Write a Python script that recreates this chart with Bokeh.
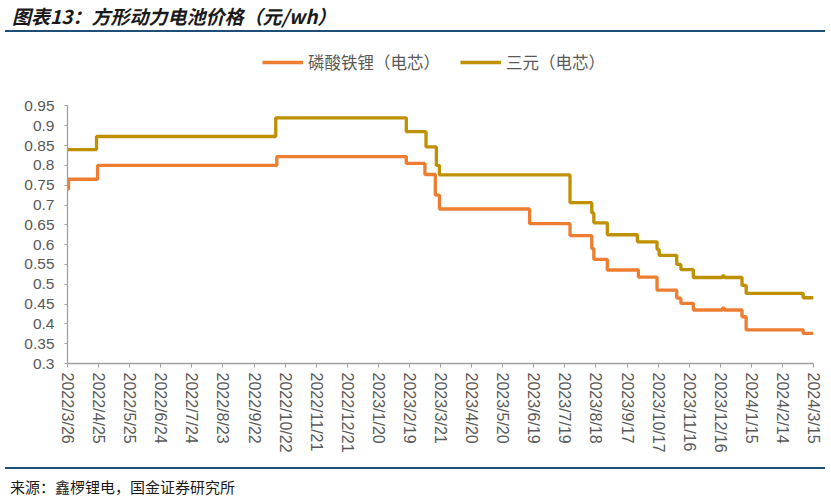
import pandas as pd
from bokeh.plotting import figure
from bokeh.layouts import column
from bokeh.models import Range1d, FixedTicker, NumeralTickFormatter, Legend, LegendItem, Div
from bokeh.embed import file_html
from bokeh.resources import INLINE

# price change points (元/wh), step data
lfp_dates = ["2022-03-26", "2022-03-27", "2022-04-24", "2022-10-14", "2023-02-16",
             "2023-03-06", "2023-03-16", "2023-03-20", "2023-06-15", "2023-07-24",
             "2023-08-14", "2023-08-16", "2023-08-29", "2023-09-28", "2023-10-16",
             "2023-11-04", "2023-11-08", "2023-11-20", "2023-12-18", "2023-12-20",
             "2024-01-06", "2024-01-10", "2024-03-05", "2024-03-15"]
lfp_price = [0.74, 0.765, 0.80, 0.822, 0.805,
             0.777, 0.725, 0.69, 0.653, 0.623,
             0.59, 0.563, 0.536, 0.518, 0.485,
             0.465, 0.452, 0.435, 0.44, 0.435,
             0.418, 0.385, 0.376, 0.376]

ncm_dates = ["2022-03-26", "2022-04-23", "2022-10-13", "2023-02-16", "2023-03-07",
             "2023-03-17", "2023-03-20", "2023-07-24", "2023-08-14", "2023-08-16",
             "2023-08-29", "2023-09-27", "2023-10-16", "2023-10-18", "2023-11-04",
             "2023-11-08", "2023-11-20", "2023-12-18", "2023-12-20", "2024-01-06",
             "2024-01-10", "2024-03-05", "2024-03-15"]
ncm_price = [0.84, 0.873, 0.92, 0.885, 0.847,
             0.80, 0.776, 0.706, 0.68, 0.655,
             0.625, 0.607, 0.588, 0.573, 0.55,
             0.537, 0.517, 0.521, 0.517, 0.497,
             0.477, 0.466, 0.466]

x_ticks = ["2022-03-26", "2022-04-25", "2022-05-25", "2022-06-24", "2022-07-24",
           "2022-08-23", "2022-09-22", "2022-10-22", "2022-11-21", "2022-12-21",
           "2023-01-20", "2023-02-19", "2023-03-21", "2023-04-20", "2023-05-20",
           "2023-06-19", "2023-07-19", "2023-08-18", "2023-09-17", "2023-10-17",
           "2023-11-16", "2023-12-16", "2024-01-15", "2024-02-14", "2024-03-15"]
x_tick_labels = [d.replace("-0", "-").replace("-", "/") for d in x_ticks]
y_ticks = [0.3, 0.35, 0.4, 0.45, 0.5, 0.55, 0.6, 0.65, 0.7, 0.75, 0.8, 0.85, 0.9, 0.95]

ORANGE = "#ED7D31"
GOLD = "#BF9000"
RULE = "#1F4E79"
GREY_TXT = "#595959"
CJK = "Noto Sans CJK SC"
W = 831

# title strip (text + rule under it)
top = Div(width=W, height=40, margin=0, text=(
    '<div style="position:relative;width:831px;height:40px;margin:0;">'
    '<div style="position:absolute;left:12px;top:3px;line-height:26px;white-space:nowrap;'
    f'font-family:\'{CJK}\';font-size:19px;font-style:italic;font-weight:bold;color:#1a1a1a;">'
    '图表13：方形动力电池价格（元/wh）</div>'
    f'<div style="position:absolute;left:5px;top:30px;width:820px;height:2px;background:{RULE};"></div>'
    '</div>'))

# main chart; y range reaches above 0.95 to leave room for the legend
p = figure(width=W, height=420, x_axis_type="datetime", toolbar_location=None,
           output_backend="svg",
           x_range=Range1d(pd.Timestamp(x_ticks[0]), pd.Timestamp(x_ticks[-1])),
           y_range=Range1d(0.3, 1.09),
           min_border_left=67, min_border_right=18, min_border_top=10, min_border_bottom=97)
p.grid.visible = False
p.outline_line_color = None

r_lfp = p.step(pd.to_datetime(lfp_dates), lfp_price, mode="after", line_color=ORANGE, line_width=3.3)
r_ncm = p.step(pd.to_datetime(ncm_dates), ncm_price, mode="after", line_color=GOLD, line_width=3.3)

tick_ms = [int(t) for t in pd.to_datetime(x_ticks).astype("int64") // 10**6]
p.xaxis.ticker = FixedTicker(ticks=tick_ms)
p.xaxis.major_label_overrides = dict(zip(tick_ms, x_tick_labels))
p.xaxis.major_label_orientation = "vertical"
p.xaxis.minor_tick_line_color = None
p.xaxis.major_tick_out = 4
p.xaxis.major_tick_in = 0
p.xaxis.major_label_standoff = 5

p.yaxis.ticker = FixedTicker(ticks=y_ticks)
p.yaxis.formatter = NumeralTickFormatter(format="0.[00]")
p.yaxis.bounds = (0.3, 0.95)
p.yaxis.minor_tick_line_color = None
p.yaxis.major_tick_out = 3
p.yaxis.major_tick_in = 0
p.yaxis.major_label_standoff = 10

for ax in (p.xaxis, p.yaxis):
    ax.axis_line_color = "#A0A0A0"
    ax.axis_line_width = 1.3
    ax.major_tick_line_color = "#A0A0A0"
    ax.major_label_text_color = GREY_TXT
    ax.major_label_text_font = "Liberation Sans"
p.xaxis.major_label_text_font_size = "16px"
p.yaxis.major_label_text_font_size = "15.5px"

legend = Legend(items=[LegendItem(label="磷酸铁锂（电芯）", renderers=[r_lfp]),
                       LegendItem(label="三元（电芯）", renderers=[r_ncm])],
                orientation="horizontal", location=(195, 289),
                glyph_width=41, glyph_height=20, label_height=20, label_standoff=5,
                spacing=20, padding=0, margin=0,
                label_text_font=CJK, label_text_font_size="16.5px", label_text_color=GREY_TXT,
                background_fill_alpha=0, border_line_alpha=0)
p.add_layout(legend)

# source strip (rule + text)
bottom = Div(width=W, height=38, margin=0, text=(
    '<div style="position:relative;width:831px;height:38px;margin:0;">'
    f'<div style="position:absolute;left:5px;top:7px;width:820px;height:2px;background:{RULE};"></div>'
    '<div style="position:absolute;left:10px;top:16px;line-height:22px;white-space:nowrap;'
    f'font-family:\'{CJK}\';font-size:15px;color:#1a1a1a;">'
    '来源：鑫椤锂电，国金证券研究所</div>'
    '</div>'))

layout = column(top, p, bottom)
open("out.html", "w").write(file_html(layout, INLINE))
